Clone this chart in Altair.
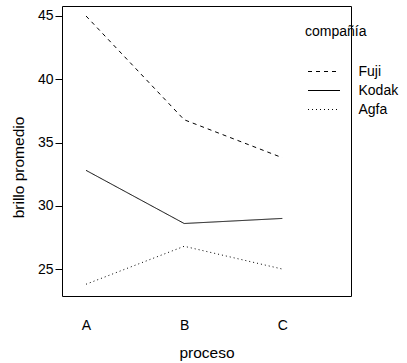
import altair as alt
import pandas as pd

proceso = ["A", "B", "C"]
posicion = [1, 2, 3]
companias = ["Fuji", "Kodak", "Agfa"]
fuji = [45.0, 36.8, 33.8]
kodak = [32.8, 28.6, 29.0]
agfa = [23.8, 26.8, 25.0]

rows = []
for comp, vals in zip(companias, [fuji, kodak, agfa]):
    for p, pos, v in zip(proceso, posicion, vals):
        rows.append({"proceso": p, "pos": pos, "compañía": comp, "brillo": v})
df = pd.DataFrame(rows)

FONT = "Liberation Sans"
FS = 14
TFS = 15.5

chart = alt.Chart(df).mark_line(color="black", strokeWidth=1).encode(
    x=alt.X("pos:Q", title="proceso",
            scale=alt.Scale(domain=[0.755, 3.70], nice=False, zero=False),
            axis=alt.Axis(values=posicion, ticks=False, domain=False, grid=False,
                          labelExpr="datum.value == 1 ? 'A' : datum.value == 2 ? 'B' : 'C'",
                          labelPadding=22, titlePadding=13, labelFontSize=FS, titleFontSize=TFS)),
    y=alt.Y("brillo:Q", title="brillo promedio",
            scale=alt.Scale(domain=[22.87, 45.79], nice=False, zero=False),
            axis=alt.Axis(values=[25, 30, 35, 40, 45], tickSize=7, domain=False, grid=False,
                          labelPadding=2, titlePadding=11, titleY=161,
                          labelFontSize=FS, titleFontSize=TFS)),
    strokeDash=alt.StrokeDash("compañía:N",
        scale=alt.Scale(domain=companias, range=[[4, 4], [1, 0], [1, 3]]),
        legend=alt.Legend(orient="none", legendX=243, legendY=19, title="compañía",
                          symbolType="M-2,0H2", symbolSize=256, symbolStrokeWidth=1,
                          symbolFillColor="transparent",
                          symbolStrokeColor="black", labelOffset=26, titlePadding=24,
                          rowPadding=3, labelFontSize=FS, titleFontSize=FS,
                          titleFontWeight="normal", symbolOffset=10.5, labelLimit=100)),
    detail="compañía:N",
).properties(
    width=289, height=290,
    padding={"left": 62, "top": 6, "right": 56, "bottom": 67},
    autosize=alt.AutoSizeParams(type="none"),
).configure(
    font=FONT, background="white"
).configure_view(
    stroke="black", strokeWidth=1
).configure_axis(
    labelColor="black", titleColor="black", tickColor="black", labelFont=FONT, titleFont=FONT,
    titleFontWeight="normal"
).configure_legend(
    labelColor="black", titleColor="black", labelFont=FONT, titleFont=FONT
)

chart.save("out.html", embed_options={"renderer": "svg", "actions": False})
